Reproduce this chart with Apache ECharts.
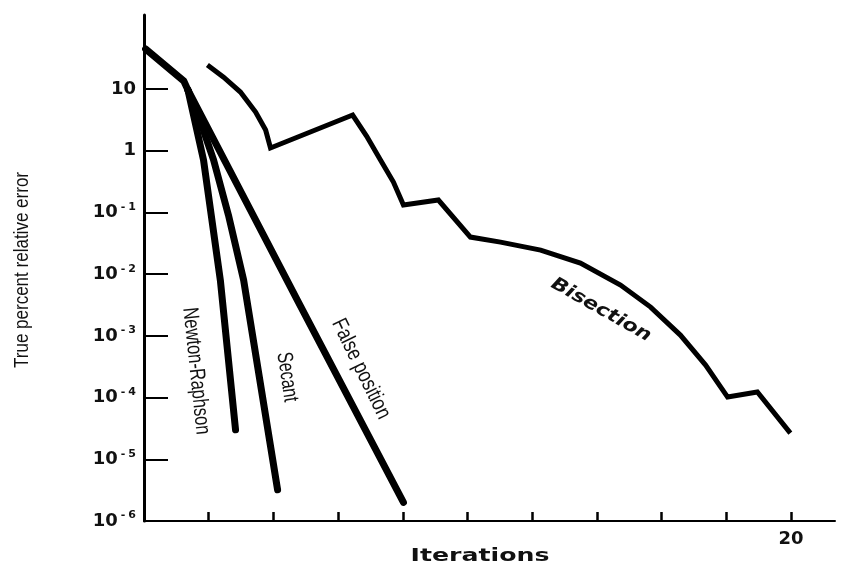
<!DOCTYPE html>
<html><head><meta charset="utf-8">
<script src="https://cdn.jsdelivr.net/npm/echarts@6/dist/echarts.min.js"></script>
<style>html,body{margin:0;padding:0;background:#fff}#c{width:843px;height:570px}</style>
</head><body><div id="c"></div>
<script>
// ---- data ----
const startIter = [0.05, 1.23, 1.36];
const startErr  = [44.5, 13.5, 9.6];

const newtonIter = [1.36, 1.84, 2.36, 2.83];
const newtonErr  = [9.6, 0.71, 0.0080, 3.0e-5];

const secantIter = [1.36, 1.75, 2.15, 2.61, 3.08, 4.13];
const secantErr  = [9.6, 2.92, 0.71, 0.0908, 0.0080, 3.2e-6];

const falseIter = [1.36, 4.74, 8.02];
const falseErr  = [9.6, 0.0038, 2.0e-6];

const bisIter = [1.96, 2.46, 2.98, 3.45, 3.76, 3.91, 6.45, 6.88, 7.31, 7.71, 8.02, 9.10, 10.09, 11.02, 12.26, 13.49, 14.73, 15.66, 16.58, 17.36, 18.04, 18.96, 19.98];
const bisErr  = [24.5, 15.6, 8.94, 4.24, 2.17, 1.11, 3.79, 1.73, 0.706, 0.311, 0.132, 0.159, 0.0399, 0.0331, 0.0246, 0.0151, 0.00665, 0.00293, 0.00103, 3.37e-4, 1.02e-4, 1.23e-4, 2.66e-5];

const yTickExponents = [-6, -5, -4, -3, -2, -1, 0, 1];
const xTickValues = [2, 4, 6, 8, 10, 12, 14, 16, 18, 20];
const xLabelValues = [20];
const curveNames = ['Newton-Raphson', 'Secant', 'False position', 'Bisection'];
const axisTitles = { x: 'Iterations', y: 'True percent relative error' };

// ---- build ----
const zip = (a, b) => a.map((v, i) => [v, b[i]]);
const yTickValues = yTickExponents.map(e => Math.pow(10, e));

function yLabel(v) {
  const e = Math.round(Math.log10(v));
  if (e === 1) return '10';
  if (e === 0) return '1';
  return '10{s|-}{d|' + (-e) + '}';
}

const thick = { color: '#000', width: 7, cap: 'round', join: 'round' };
function lineSeries(name, data, style) {
  return { type: 'line', name, data, symbol: 'none', showSymbol: false, smooth: false,
           lineStyle: style, animation: false, silent: true };
}

const deg = Math.PI / 180;
const chart = echarts.init(document.getElementById('c'));
chart.setOption({
  backgroundColor: '#fff',
  animation: false,
  grid: { left: 144, right: 8, top: 15, bottom: 49 },
  xAxis: {
    type: 'value', min: 0, max: 21.36, interval: 2,
    axisLine: { onZero: false, lineStyle: { color: '#000', width: 2 } },
    axisTick: { inside: true, length: 9, lineStyle: { color: '#000', width: 2.5 }, customValues: xTickValues },
    axisLabel: { customValues: xLabelValues, margin: 9, color: '#111',
                 fontFamily: 'DejaVu Sans', fontWeight: 'bold', fontSize: 18,
                 formatter: v => String(v) },
    splitLine: { show: false }
  },
  yAxis: {
    type: 'log', logBase: 10, min: 1e-6, max: 158.5,
    axisLine: { show: true, onZero: false, lineStyle: { color: '#000', width: 3 } },
    axisTick: { show: true, inside: true, length: 24, lineStyle: { color: '#000', width: 2 }, customValues: yTickValues },
    axisLabel: {
      customValues: yTickValues, margin: 8, color: '#111',
      fontFamily: 'DejaVu Sans', fontWeight: 'bold', fontSize: 18,
      formatter: yLabel,
      rich: {
        s: { fontFamily: 'DejaVu Sans', fontWeight: 'bold', fontSize: 11, color: '#111', padding: [0, 2, 11, 3] },
        d: { fontFamily: 'DejaVu Sans', fontWeight: 'bold', fontSize: 11, color: '#111', padding: [0, 0, 11, 1] }
      }
    },
    splitLine: { show: false }
  },
  series: [
    lineSeries('start', zip(startIter, startErr), { color: '#000', width: 7, cap: 'round', join: 'round' }),
    lineSeries(curveNames[0], zip(newtonIter, newtonErr), thick),
    lineSeries(curveNames[1], zip(secantIter, secantErr), thick),
    lineSeries(curveNames[2], zip(falseIter, falseErr), thick),
    lineSeries(curveNames[3], zip(bisIter, bisErr), { color: '#000', width: 5, cap: 'butt', join: 'miter' })
  ],
  graphic: [
    { type: 'text', x: 22, y: 270, rotation: 90 * deg, scaleX: 0.81,
      style: { text: axisTitles.y, font: '21px "Liberation Sans"', fill: '#111', align: 'center', verticalAlign: 'middle' } },
    { type: 'text', x: 480, y: 556, scaleX: 1.4,
      style: { text: axisTitles.x, font: 'bold 18px "DejaVu Sans"', fill: '#111', align: 'center', verticalAlign: 'middle' } },
    { type: 'text', x: 196, y: 371, rotation: -84 * deg, scaleX: 0.75,
      style: { text: curveNames[0], font: '22px "Liberation Sans"', fill: '#111', align: 'center', verticalAlign: 'middle' } },
    { type: 'text', x: 287, y: 377, rotation: -81.5 * deg, scaleX: 0.73,
      style: { text: curveNames[1], font: '22px "Liberation Sans"', fill: '#111', align: 'center', verticalAlign: 'middle' } },
    { type: 'text', x: 361, y: 369, rotation: -64 * deg, scaleX: 0.8,
      style: { text: curveNames[2], font: '22px "Liberation Sans"', fill: '#111', align: 'center', verticalAlign: 'middle' } },
    { type: 'text', x: 601, y: 310, rotation: -29.5 * deg, scaleX: 1.2,
      style: { text: curveNames[3], font: 'italic bold 18px "DejaVu Sans"', fill: '#111', align: 'center', verticalAlign: 'middle' } }
  ]
});
</script>
</body></html>
